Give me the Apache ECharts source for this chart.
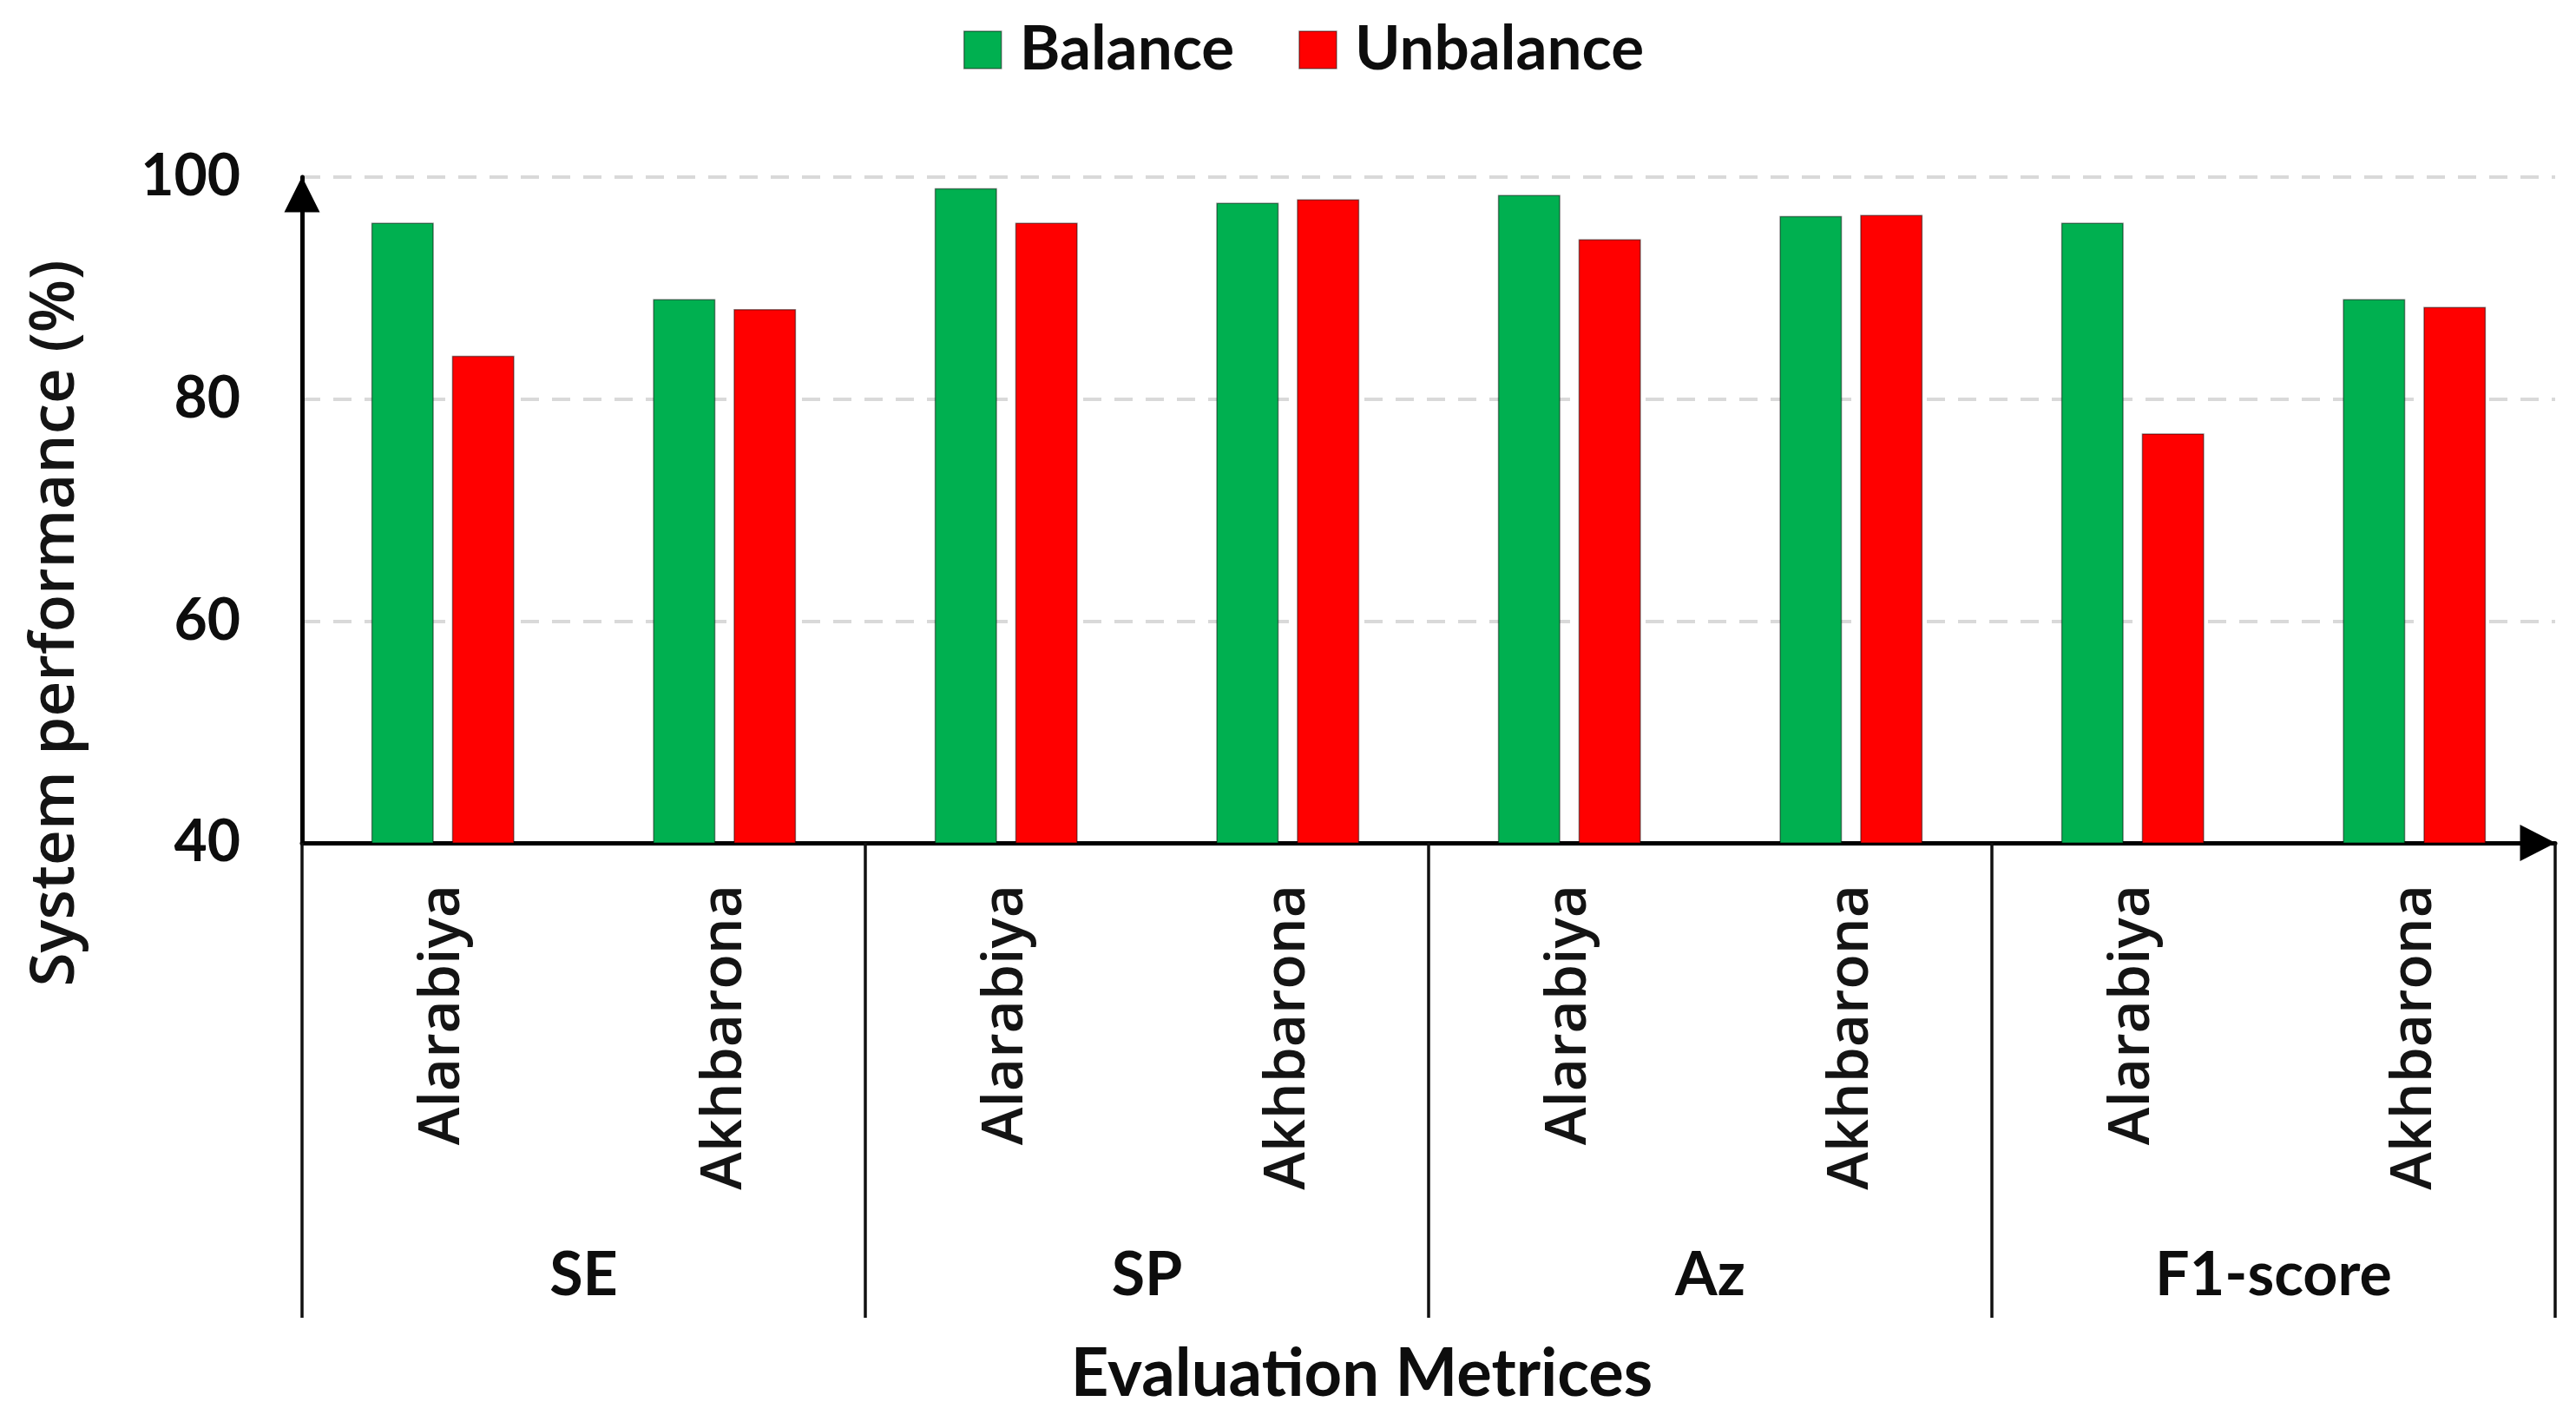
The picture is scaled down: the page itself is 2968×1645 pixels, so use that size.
<!DOCTYPE html>
<html>
<head>
<meta charset="utf-8">
<script src="https://cdn.jsdelivr.net/npm/echarts@6/dist/echarts.min.js"></script>
<style>
html,body{margin:0;padding:0;background:#fff;}
#chart{width:2968px;height:1645px;}
</style>
</head>
<body>
<div id="chart"></div>
<script>
const subCategories = ['Alarabiya', 'Akhbarona', 'Alarabiya', 'Akhbarona', 'Alarabiya', 'Akhbarona', 'Alarabiya', 'Akhbarona'];
const groups = ['SE', 'SP', 'Az', 'F1-score'];
const balance = [95.9, 89.0, 99.0, 97.7, 98.4, 96.5, 95.9, 89.0];
const unbalance = [83.9, 88.1, 95.9, 98.0, 94.4, 96.6, 76.9, 88.3];
const yTicks = { min: 40, max: 100, interval: 20 };

const chart = echarts.init(document.getElementById('chart'));
const calib = 'Lato';
const segoe = 'Open Sans';
const option = {
  backgroundColor: '#ffffff',
  animation: false,
  legend: {
    data: ['Balance', 'Unbalance'],
    left: 1110,
    top: 22,
    padding: 0,
    icon: 'rect',
    itemWidth: 43,
    itemHeight: 43,
    itemGap: 74,
    itemStyle: { borderColor: 'rgba(0,0,0,0.45)', borderWidth: 1.5 },
    textStyle: { fontFamily: calib, fontWeight: 'bold', fontSize: 71, color: '#0d0d0d', padding: [0, 0, 0, 16] }
  },
  grid: { left: 348, right: 24, top: 204, bottom: 674, containLabel: false },
  xAxis: [
    {
      type: 'category',
      data: subCategories,
      position: 'bottom',
      name: 'Evaluation Metrices',
      nameLocation: 'middle',
      nameGap: 574,
      nameTextStyle: { fontFamily: calib, fontWeight: 'bold', fontSize: 76, color: '#0d0d0d', padding: [0, 154, 0, 0] },
      axisLine: { show: true, lineStyle: { color: '#000', width: 5 }, symbol: ['none', 'triangle'], symbolSize: [42, 41], symbolOffset: [0, -20] },
      axisTick: { show: false },
      axisLabel: { rotate: 90, margin: 48, fontFamily: segoe, fontWeight: 600, fontSize: 66, color: '#141414', interval: 0 },
      splitLine: { show: false }
    },
    {
      type: 'category',
      data: groups,
      position: 'bottom',
      axisLine: { show: false },
      axisTick: { show: true, length: 547, lineStyle: { color: '#111', width: 3.5 } },
      axisLabel: { margin: 463, fontFamily: calib, fontWeight: 'bold', fontSize: 70, color: '#0d0d0d', interval: 0 },
      splitLine: { show: false }
    }
  ],
  yAxis: {
    type: 'value',
    min: yTicks.min,
    max: yTicks.max,
    interval: yTicks.interval,
    name: 'System performance (%)',
    nameLocation: 'middle',
    nameGap: 248,
    nameTextStyle: { fontFamily: segoe, fontWeight: 600, fontSize: 71, color: '#141414', padding: [0, 261, 0, 0] },
    axisLine: { show: true, lineStyle: { color: '#000', width: 5 }, symbol: ['none', 'triangle'], symbolSize: [41, 41], symbolOffset: [0, -20] },
    axisTick: { show: false },
    axisLabel: { margin: 71, fontFamily: calib, fontWeight: 'bold', fontSize: 66, color: '#0d0d0d' },
    splitLine: { show: true, lineStyle: { color: '#d9d9d9', width: 4, type: [21, 15] } }
  },
  series: [
    {
      name: 'Balance', type: 'bar', data: balance, xAxisIndex: 0,
      barWidth: 72, barGap: '29%',
      itemStyle: { color: '#00B050', borderColor: 'rgba(0,0,0,0.45)', borderWidth: 1.5 }
    },
    {
      name: 'Unbalance', type: 'bar', data: unbalance, xAxisIndex: 0,
      barWidth: 72, barGap: '29%',
      itemStyle: { color: '#FF0000', borderColor: 'rgba(0,0,0,0.45)', borderWidth: 1.5 }
    }
  ]
};
chart.setOption(option);
</script>
</body>
</html>
